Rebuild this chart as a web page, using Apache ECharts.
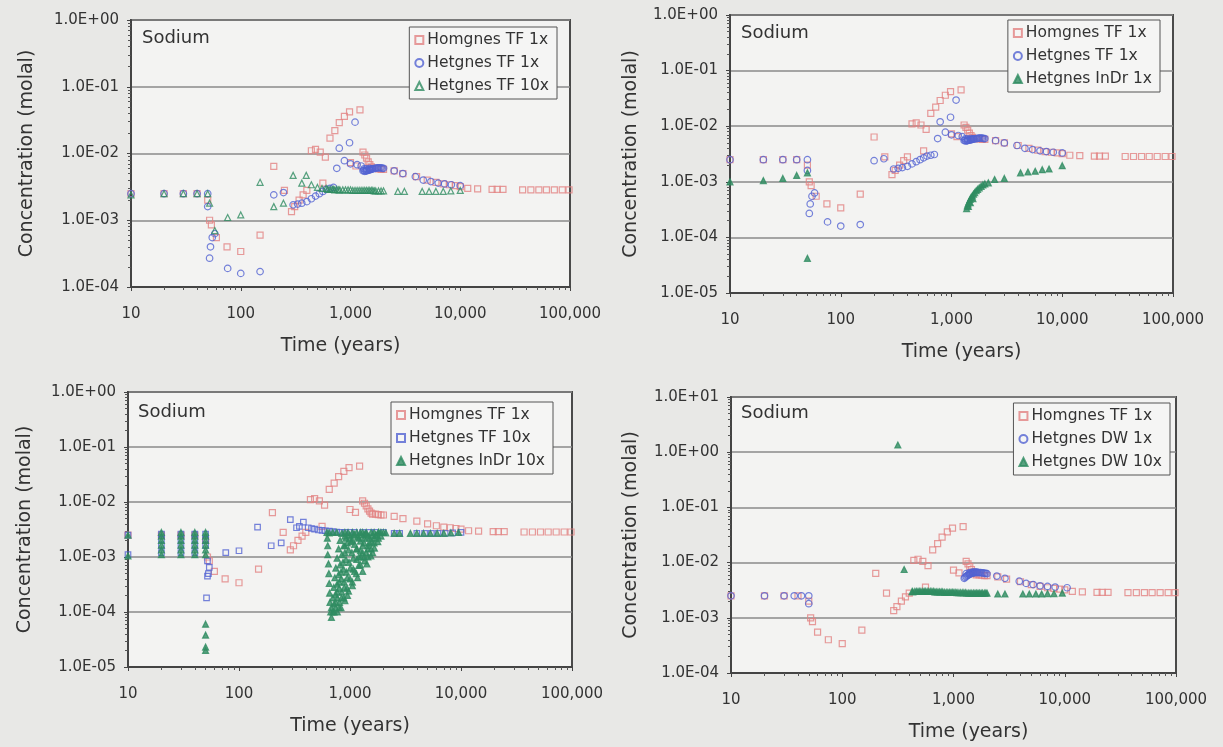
<!DOCTYPE html>
<html><head><meta charset="utf-8">
<script src="https://cdn.jsdelivr.net/npm/echarts@6/dist/echarts.min.js"></script>
<style>
html,body{margin:0;padding:0;background:#e8e8e6;}
#wrap{position:relative;width:1223px;height:747px;overflow:hidden;}
.p{position:absolute;}
</style>
</head><body><div id="wrap">
<div class="p" id="p1" style="left:0;top:0;width:611px;height:373px"></div>
<div class="p" id="p2" style="left:611px;top:0;width:612px;height:373px"></div>
<div class="p" id="p3" style="left:0;top:373px;width:611px;height:374px"></div>
<div class="p" id="p4" style="left:611px;top:373px;width:612px;height:374px"></div>
</div>
<script>
// ---------- tick labels ----------
const xTickLabels = ['10','100','1,000','10,000','100,000'];

// ---------- data (time in years, concentration in molal) ----------
const homTF1x = [
 [10,2.5e-3],[20,2.5e-3],[30,2.5e-3],[40,2.5e-3],[50,2.0e-3],[52,1.0e-3],[54,8.5e-4],[60,5.5e-4],[75,4.0e-4],[100,3.4e-4],
 [150,6.0e-4],[200,6.4e-3],[250,2.8e-3],[290,1.35e-3],[310,1.6e-3],[340,2.0e-3],[370,2.4e-3],[400,2.8e-3],[440,1.1e-2],[480,1.15e-2],
 [530,1.05e-2],[590,8.8e-3],[560,3.6e-3],[650,1.7e-2],[720,2.2e-2],[790,2.9e-2],[880,3.6e-2],[980,4.2e-2],[1220,4.5e-2],[1000,7.3e-3],
 [1120,6.5e-3],[1300,1.05e-2],[1350,9.5e-3],[1400,8.5e-3],[1450,7.5e-3],[1500,6.8e-3],[1550,6.3e-3],[1600,6.0e-3],[1700,6.0e-3],[1800,5.9e-3],
 [1900,5.8e-3],[2000,5.8e-3],[2500,5.5e-3],[3000,5.0e-3],[4000,4.5e-3],[5000,4.0e-3],[6000,3.7e-3],[7000,3.5e-3],[8000,3.4e-3],[9000,3.3e-3],
 [10000,3.2e-3],[11700,3.0e-3],[14400,2.95e-3],[19500,2.9e-3],[21700,2.9e-3],[24500,2.9e-3],[37000,2.85e-3],[44000,2.85e-3],[52000,2.85e-3],
 [61000,2.85e-3],[72000,2.85e-3],[85000,2.85e-3],[98000,2.85e-3]
];
const hetTF1x = [
 [10,2.5e-3],[20,2.5e-3],[30,2.5e-3],[40,2.5e-3],[50,2.5e-3],[50,1.6e-3],[52,2.7e-4],[53,4.0e-4],[55,5.5e-4],[58,6.3e-4],
 [76,1.9e-4],[100,1.6e-4],[150,1.7e-4],[200,2.4e-3],[245,2.6e-3],[300,1.7e-3],[330,1.75e-3],[360,1.8e-3],[400,1.9e-3],[440,2.1e-3],
 [480,2.3e-3],[520,2.5e-3],[560,2.7e-3],[600,2.9e-3],[650,3.0e-3],[700,3.1e-3],[750,6.0e-3],[790,1.2e-2],[880,7.8e-3],[980,1.45e-2],
 [1100,2.95e-2],[1000,7.0e-3],[1150,6.8e-3],[1250,6.5e-3],[1300,5.5e-3],[1350,5.4e-3],[1400,5.5e-3],[1450,5.6e-3],[1500,5.7e-3],[1550,5.8e-3],
 [1600,5.9e-3],[1700,6.0e-3],[1800,6.1e-3],[1900,6.1e-3],[2000,6.0e-3],
 [1320,5.6e-3],[1380,5.5e-3],[1420,5.6e-3],[1480,5.7e-3],[1520,5.8e-3],[1580,5.9e-3],[1650,6.0e-3],[1750,6.1e-3],[1850,6.1e-3],[1950,6.0e-3],
 [1330,5.9e-3],[1400,5.9e-3],[1500,6.0e-3],
 [2500,5.5e-3],[3000,5.0e-3],[3900,4.5e-3],[4600,4.0e-3],[5400,3.8e-3],[6300,3.6e-3],[7200,3.5e-3],[8300,3.4e-3],[10000,3.3e-3]
];
const hetTF10x = [
 [10,2.4e-3],[20,2.5e-3],[30,2.5e-3],[40,2.5e-3],[50,2.5e-3],[52,1.8e-3],[58,7.0e-4],[76,1.1e-3],[100,1.2e-3],[150,3.7e-3],
 [200,1.6e-3],[245,1.8e-3],[300,4.7e-3],[360,3.6e-3],[395,4.7e-3],[440,3.4e-3],[500,3.1e-3],[550,3.0e-3],[600,3.0e-3],[650,2.9e-3],
 [700,2.9e-3],[750,2.9e-3],[800,2.85e-3],[900,2.85e-3],[1000,2.85e-3],[1100,2.8e-3],[1200,2.8e-3],[1300,2.8e-3],[1400,2.8e-3],[1500,2.8e-3],
 [1600,2.8e-3],[1700,2.75e-3],[1800,2.75e-3],[2000,2.75e-3],
 [620,2.9e-3],[680,2.9e-3],[720,2.85e-3],[780,2.85e-3],[850,2.85e-3],[950,2.85e-3],[1050,2.8e-3],[1150,2.8e-3],[1250,2.8e-3],[1350,2.8e-3],
 [1450,2.8e-3],[1550,2.8e-3],[1650,2.75e-3],[1900,2.75e-3],
 [2700,2.7e-3],[3100,2.7e-3],[4500,2.7e-3],[5200,2.7e-3],[6000,2.7e-3],[7000,2.7e-3],[8200,2.75e-3],[10000,2.8e-3]
];
const hetInDr1x = [
 [10,1.0e-3],[20,1.05e-3],[30,1.15e-3],[40,1.3e-3],[50,1.45e-3],[50,4.2e-5],
 [1370,3.3e-4],[1390,3.7e-4],[1410,4.0e-4],[1440,4.4e-4],[1470,4.8e-4],[1500,5.2e-4],[1540,5.6e-4],[1580,6.0e-4],[1620,6.4e-4],[1670,6.9e-4],
 [1720,7.3e-4],[1780,7.8e-4],[1850,8.3e-4],[1920,8.8e-4],[2000,9.2e-4],[2150,9.6e-4],[1420,3.6e-4],[1480,4.2e-4],[1560,5.0e-4],
 [2450,1.1e-3],[3000,1.15e-3],[4200,1.45e-3],[4900,1.5e-3],[5700,1.55e-3],[6600,1.65e-3],[7600,1.7e-3],[10000,1.95e-3]
];
const hetTF10xSq = [
 [10,2.5e-3],[10,1.1e-3],[20,2.6e-3],[20,2.1e-3],[20,1.6e-3],[20,1.2e-3],[30,2.6e-3],[30,2.1e-3],[30,1.6e-3],[30,1.2e-3],
 [40,2.6e-3],[40,2.1e-3],[40,1.6e-3],[40,1.2e-3],[50,2.6e-3],[50,2.1e-3],[50,1.6e-3],[52,8.5e-4],[54,6.5e-4],[53,5.0e-4],
 [52,4.5e-4],[51,1.8e-4],[76,1.2e-3],[100,1.3e-3],[147,3.5e-3],[195,1.6e-3],[240,1.8e-3],[290,4.8e-3],[380,4.3e-3],[330,3.4e-3],
 [350,3.6e-3],[420,3.4e-3],[450,3.3e-3],[480,3.2e-3],[520,3.1e-3],[560,3.05e-3],[600,3.0e-3],[650,2.95e-3],[700,2.9e-3],[760,2.85e-3],
 [820,2.8e-3],[900,2.8e-3],[1000,2.8e-3],[1100,2.8e-3],[1300,2.8e-3],[1500,2.8e-3],[1700,2.8e-3],[2000,2.8e-3],[2500,2.7e-3],[2800,2.7e-3],
 [4000,2.7e-3],[4700,2.7e-3],[5400,2.7e-3],[6200,2.7e-3],[7200,2.7e-3],[8400,2.75e-3],[10000,2.8e-3]
];
const hetInDr10x = [
 [10,1.05e-3],[10,2.5e-3],
 [20,1.1e-3],[20,1.35e-3],[20,1.65e-3],[20,2.0e-3],[20,2.4e-3],[20,2.8e-3],
 [30,1.1e-3],[30,1.35e-3],[30,1.65e-3],[30,2.0e-3],[30,2.4e-3],[30,2.8e-3],
 [40,1.1e-3],[40,1.35e-3],[40,1.65e-3],[40,2.0e-3],[40,2.4e-3],[40,2.8e-3],
 [50,1.1e-3],[50,1.35e-3],[50,1.65e-3],[50,2.0e-3],[50,2.4e-3],[50,2.8e-3],
 [50,6.0e-5],[50,3.8e-5],[50,2.3e-5],[50,2.0e-5],
 [620,2.8e-3],[625,2.2e-3],[630,1.6e-3],[630,1.1e-3],[640,7.5e-4],[645,5.0e-4],[650,3.3e-4],[655,2.2e-4],[660,1.5e-4],[670,1.0e-4],[680,8.0e-5],
 [680,1.2e-4],[700,1.8e-4],[715,2.8e-4],[730,4.2e-4],[745,6.3e-4],[765,9.5e-4],[790,1.4e-3],[815,2.0e-3],[845,2.7e-3],
 [700,1.0e-4],[720,1.4e-4],[740,2.1e-4],[765,3.2e-4],[790,4.8e-4],[815,7.2e-4],[845,1.1e-3],[880,1.6e-3],[920,2.2e-3],[960,2.8e-3],
 [720,1.0e-4],[745,1.5e-4],[770,2.3e-4],[800,3.5e-4],[830,5.3e-4],[865,8.0e-4],[900,1.2e-3],[945,1.8e-3],[990,2.5e-3],
 [740,1.2e-4],[770,1.8e-4],[800,2.7e-4],[835,4.0e-4],[875,6.0e-4],[920,9.0e-4],[970,1.35e-3],[1025,1.9e-3],[1090,2.6e-3],
 [770,1.0e-4],[805,1.5e-4],[845,2.3e-4],[885,3.5e-4],[930,5.3e-4],[980,8.0e-4],[1040,1.2e-3],[1100,1.7e-3],[1170,2.3e-3],[1240,2.8e-3],
 [800,1.2e-4],[840,1.8e-4],[890,2.8e-4],[945,4.2e-4],[1005,6.3e-4],[1070,9.5e-4],[1150,1.4e-3],[1240,1.95e-3],[1340,2.6e-3],
 [830,1.2e-4],[880,1.8e-4],[940,2.7e-4],[1000,4.0e-4],[1070,6.0e-4],[1150,9.0e-4],[1240,1.3e-3],[1340,1.8e-3],[1450,2.4e-3],[1550,2.8e-3],
 [900,1.6e-4],[970,2.4e-4],[1050,3.5e-4],[1140,5.0e-4],[1240,7.2e-4],[1340,1.0e-3],[1450,1.4e-3],[1570,1.9e-3],[1700,2.5e-3],[1820,2.8e-3],
 [950,2.0e-4],[1050,3.0e-4],[1170,4.2e-4],[1300,5.5e-4],[1420,7.5e-4],[1540,1.05e-3],[1660,1.45e-3],[1780,1.9e-3],[1900,2.4e-3],[2000,2.8e-3],
 [650,2.75e-3],[700,2.8e-3],[760,2.8e-3],[900,2.8e-3],[1050,2.8e-3],[1150,2.8e-3],[1300,2.8e-3],[1400,2.8e-3],[1650,2.8e-3],[1800,2.8e-3],[1900,2.8e-3],
 [1200,2.2e-3],[1350,2.2e-3],[1500,2.2e-3],[1650,2.2e-3],[1300,1.6e-3],[1450,1.6e-3],[1550,1.4e-3],[1400,1.2e-3],[1250,1.0e-3],[1350,8.5e-4],
 [1200,7.0e-4],[1100,5.5e-4],[1000,2.2e-3],[1100,2.5e-3],[1600,2.5e-3],[1750,2.5e-3],[900,2.4e-3],[1050,2.0e-3],[1150,1.4e-3],[900,1.6e-3],
 [1500,1.8e-3],[1650,1.8e-3],[1800,2.2e-3],[1600,1.2e-3],[1450,1.0e-3],[1300,1.2e-3],[1200,1.0e-3],[1400,2.6e-3],[1250,2.5e-3],
 [2100,2.75e-3],[2500,2.7e-3],[2800,2.7e-3],[3500,2.7e-3],[4000,2.7e-3],[4600,2.7e-3],[5300,2.7e-3],[6100,2.7e-3],[7000,2.7e-3],[8100,2.75e-3],[9500,2.8e-3]
];
const hetDW1x = [
 [10,2.5e-3],[20,2.5e-3],[30,2.5e-3],[37,2.5e-3],[43,2.5e-3],[50,2.5e-3],[50,1.8e-3],
 [1250,5.2e-3],[1300,5.6e-3],[1350,5.9e-3],[1400,6.2e-3],[1450,6.4e-3],[1500,6.5e-3],[1550,6.6e-3],[1600,6.6e-3],[1650,6.6e-3],[1700,6.6e-3],
 [1800,6.5e-3],[1900,6.4e-3],[2000,6.3e-3],
 [1270,5.4e-3],[1320,5.8e-3],[1380,6.1e-3],[1420,6.3e-3],[1480,6.5e-3],[1520,6.6e-3],[1580,6.7e-3],[1630,6.7e-3],[1750,6.6e-3],[1850,6.5e-3],
 [1950,6.4e-3],[1300,6.3e-3],[1400,6.6e-3],[1500,6.8e-3],
 [2450,5.7e-3],[2900,5.2e-3],[3900,4.6e-3],[4500,4.2e-3],[5200,4.0e-3],[6000,3.8e-3],[7000,3.7e-3],[8200,3.6e-3],[10500,3.5e-3]
];
const hetDW10x = [
 [316,1.35],[360,7.5e-3],[425,3.0e-3],[450,3.0e-3],[480,3.0e-3],[510,3.0e-3],[545,3.0e-3],[580,3.0e-3],[620,3.0e-3],[660,3.0e-3],
 [700,2.95e-3],[750,2.95e-3],[800,2.95e-3],[860,2.9e-3],[920,2.9e-3],[980,2.9e-3],[1050,2.9e-3],[1120,2.85e-3],[1200,2.85e-3],[1280,2.85e-3],
 [1370,2.8e-3],[1460,2.8e-3],[1560,2.8e-3],[1660,2.8e-3],[1770,2.8e-3],[1890,2.8e-3],[2000,2.8e-3],
 [430,2.95e-3],[465,3.0e-3],[495,3.0e-3],[530,3.0e-3],[560,3.0e-3],[600,3.0e-3],[640,3.0e-3],[680,2.95e-3],[725,2.95e-3],[775,2.95e-3],
 [830,2.9e-3],[890,2.9e-3],[950,2.9e-3],[1010,2.9e-3],[1080,2.85e-3],[1160,2.85e-3],[1240,2.85e-3],[1320,2.8e-3],[1410,2.8e-3],[1510,2.8e-3],
 [1610,2.8e-3],[1710,2.8e-3],[1820,2.8e-3],[1950,2.8e-3],
 [2500,2.7e-3],[2900,2.7e-3],[4200,2.7e-3],[4800,2.7e-3],[5500,2.7e-3],[6200,2.7e-3],[7000,2.75e-3],[8000,2.75e-3],[9500,2.8e-3]
];

// ---------- styling helpers ----------
const RED = '#e28282', BLUE = '#5363d2', GREEN = '#2f8c62';
const FONT = '"DejaVu Sans", Verdana, sans-serif';
function expLabel(v){
  const e = Math.round(Math.log10(v));
  return '1.0E' + (e < 0 ? '-' : '+') + String(Math.abs(e)).padStart(2,'0');
}
function ser(name, data, symbol, color, filled, size){
  return {
    type:'scatter', name, data, symbol, symbolSize: size || 6,
    itemStyle:{ color: filled ? color : 'rgba(255,255,255,0)', borderColor: color, borderWidth: 1.2 },
    emphasis:{disabled:true}, animation:false
  };
}
function build(el, cfg){
  const chart = echarts.init(document.getElementById(el), null, {renderer:'canvas'});
  chart.setOption({
    backgroundColor:'transparent',
    animation:false,
    textStyle:{fontFamily:FONT},
    title:{ text:'Sodium', left:cfg.title[0], top:cfg.title[1],
      textStyle:{fontSize:18, fontWeight:'normal', color:'#333', fontFamily:FONT} },
    grid:{ left:cfg.grid[0], top:cfg.grid[1], width:cfg.grid[2], height:cfg.grid[3],
      show:true, backgroundColor:'#f3f3f2', borderColor:'#4a4a4a', borderWidth:2 },
    legend:{ orient:'vertical', right:cfg.legend[0], top:cfg.legend[1],
      data: cfg.series.map(s => s.name),
      backgroundColor:'#f5f5f4', borderColor:'#555', borderWidth:1,
      padding:[5,8,5,5], itemGap:7, itemWidth:8, itemHeight:8,
      textStyle:{fontSize:15.5, color:'#333', fontFamily:FONT, padding:[0,0,0,-1]} },
    xAxis:{ type:'log', logBase:10, min:10, max:100000, splitNumber:4,
      axisLine:{show:true, lineStyle:{color:'#444', width:2}},
      axisTick:{show:true, length:4, lineStyle:{color:'#444'}},
      minorTick:{show:true, splitNumber:9, length:3, lineStyle:{color:'#555'}},
      splitLine:{show:false},
      axisLabel:{ formatter: v => xTickLabels[Math.round(Math.log10(v)) - 1], margin:20,
        fontSize:15, color:'#333', fontFamily:FONT, showMinLabel:true, showMaxLabel:true },
      name:'Time (years)', nameLocation:'middle', nameGap:50,
      nameTextStyle:{fontSize:19, color:'#333', fontFamily:FONT, padding:cfg.xNamePad} },
    yAxis:{ type:'log', logBase:10, min:cfg.y[0], max:cfg.y[1], splitNumber:cfg.y[2],
      axisLine:{show:true, lineStyle:{color:'#444', width:2}},
      axisTick:{show:true, length:4, lineStyle:{color:'#444'}},
      minorTick:{show:true, splitNumber:9, length:3, lineStyle:{color:'#555'}},
      splitLine:{show:true, lineStyle:{color:'#8a8a8a', width:1.5}},
      axisLabel:{ formatter: expLabel, margin:12, fontSize:15, color:'#333', fontFamily:FONT },
      name:'Concentration (molal)', nameLocation:'middle', nameGap:cfg.nameGap, nameRotate:90,
      nameTextStyle:{fontSize:19, color:'#333', fontFamily:FONT} },
    series: cfg.series
  });
}

build('p1', { grid:[131,20,439,267], y:[1e-4,1,4], nameGap:94, legend:[54,27], title:[137,24], xNamePad:[0,20,0,0],
  series:[ ser('Homgnes TF 1x', homTF1x, 'rect', RED, false, 6),
           ser('Hetgnes TF 1x', hetTF1x, 'circle', BLUE, false, 6.5),
           ser('Hetgnes TF 10x', hetTF10x, 'triangle', GREEN, false, 6) ] });
build('p2', { grid:[119,15,443,278], y:[1e-5,1,5], nameGap:89, legend:[63,20], title:[125,19], xNamePad:[0,0,0,20],
  series:[ ser('Homgnes TF 1x', homTF1x, 'rect', RED, false, 6),
           ser('Hetgnes TF 1x', hetTF1x, 'circle', BLUE, false, 6.5),
           ser('Hetgnes InDr 1x', hetInDr1x, 'triangle', GREEN, true, 6) ] });
build('p3', { grid:[128,19,444,275], y:[1e-5,1,5], nameGap:93, legend:[58,29], title:[133,25], xNamePad:[0,0,0,0],
  series:[ ser('Homgnes TF 1x', homTF1x, 'rect', RED, false, 6),
           ser('Hetgnes TF 10x', hetTF10xSq, 'rect', BLUE, false, 5.5),
           ser('Hetgnes InDr 10x', hetInDr10x, 'triangle', GREEN, true, 6) ] });
build('p4', { grid:[120,24,445,277], y:[1e-4,10,5], nameGap:90, legend:[53,30], title:[125,26], xNamePad:[0,0,0,30],
  series:[ ser('Homgnes TF 1x', homTF1x, 'rect', RED, false, 6),
           ser('Hetgnes DW 1x', hetDW1x, 'circle', BLUE, false, 6.5),
           ser('Hetgnes DW 10x', hetDW10x, 'triangle', GREEN, true, 6) ] });
</script></body></html>
